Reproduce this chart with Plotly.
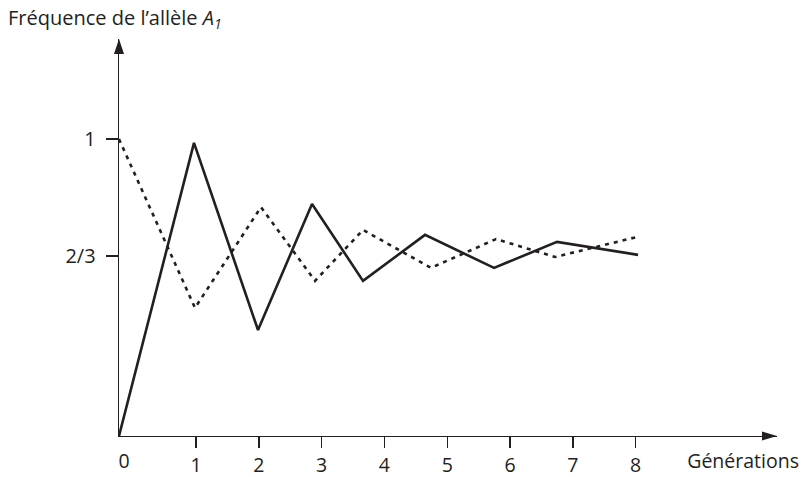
import plotly.graph_objects as go

# Data (generation position, allele frequency)
solid_x = [-0.226, 0.968, 1.987, 2.847, 3.659, 4.646, 5.745, 6.748, 8.038]
solid_y = [0.154, 0.989, 0.456, 0.815, 0.596, 0.727, 0.633, 0.707, 0.670]

dotted_x = [-0.226, 0.984, 2.035, 2.895, 3.659, 4.742, 5.777, 6.717, 8.022]
dotted_y = [1.000, 0.519, 0.806, 0.596, 0.741, 0.633, 0.715, 0.664, 0.721]

x_ticks = [1, 2, 3, 4, 5, 6, 7, 8]
x_tick_labels = ["1", "2", "3", "4", "5", "6", "7", "8"]
x_extra_ticks = [-0.146, 9.71]          # "0" beside the origin and the axis name
x_extra_labels = ["0", "Générations"]
y_ticks = [2 / 3, 1.0]
y_tick_labels = ["2/3", "1"]

FONT = "Open Sans"
INK = "#231f20"
FS = 20
FS_X = 19.5
X_RANGE = [-0.226, 10.25]

fig = go.Figure()
fig.add_trace(go.Scatter(x=dotted_x, y=dotted_y, mode="lines",
                         line=dict(color=INK, width=2.6, dash="4px,5px"),
                         showlegend=False, hoverinfo="skip"))
fig.add_trace(go.Scatter(x=solid_x, y=solid_y, mode="lines",
                         line=dict(color=INK, width=2.6),
                         showlegend=False, hoverinfo="skip"))
fig.add_trace(go.Scatter(x=[], y=[], xaxis="x2", showlegend=False, hoverinfo="skip"))

fig.update_layout(
    width=804, height=477,
    margin=dict(l=119, r=27, t=39, b=41),
    paper_bgcolor="white", plot_bgcolor="white",
    font=dict(family=FONT, size=FS, color=INK),
    xaxis=dict(range=X_RANGE, showgrid=False, zeroline=False,
               showline=True, linecolor=INK, linewidth=1.4,
               ticks="outside", ticklen=11, tickwidth=1.4, tickcolor=INK,
               tickvals=x_ticks, ticktext=x_tick_labels,
               tickfont=dict(size=FS_X),
               ticklabelstandoff=0, fixedrange=True, automargin=False),
    xaxis2=dict(range=X_RANGE, overlaying="x", side="bottom", anchor="y",
                showgrid=False, zeroline=False, showline=False, ticks="",
                tickvals=x_extra_ticks, ticktext=x_extra_labels,
                tickfont=dict(size=FS_X),
                ticklabelstandoff=11, fixedrange=True, automargin=False),
    yaxis=dict(range=[0.154, 1.285], showgrid=False, zeroline=False,
               showline=True, linecolor=INK, linewidth=1.4,
               ticks="outside", ticklen=12, tickwidth=1.4, tickcolor=INK,
               tickvals=y_ticks, ticktext=y_tick_labels,
               ticklabelstandoff=6, fixedrange=True, automargin=False),
    shapes=[
        dict(type="path", xref="paper", yref="paper", xsizemode="pixel", ysizemode="pixel",
             xanchor=1, yanchor=0, path="M 0,0 L -15,4.5 L -15,-4.5 Z",
             fillcolor=INK, line=dict(width=0)),
        dict(type="path", xref="paper", yref="paper", xsizemode="pixel", ysizemode="pixel",
             xanchor=0, yanchor=1, path="M 0,0 L -5,-15 L 5,-15 Z",
             fillcolor=INK, line=dict(width=0)),
    ],
    annotations=[
        dict(text="Fréquence de l’allèle <i>A<sub>1</sub></i>", xref="paper", yref="paper",
             x=0, y=1, xanchor="left", yanchor="middle", xshift=-113, yshift=21,
             showarrow=False, font=dict(size=FS)),
    ],
)

fig.write_html(
    "out.html",
    config={"displayModeBar": False, "staticPlot": True},
    post_script="document.body.style.margin='0';document.body.style.overflow='hidden';",
)
